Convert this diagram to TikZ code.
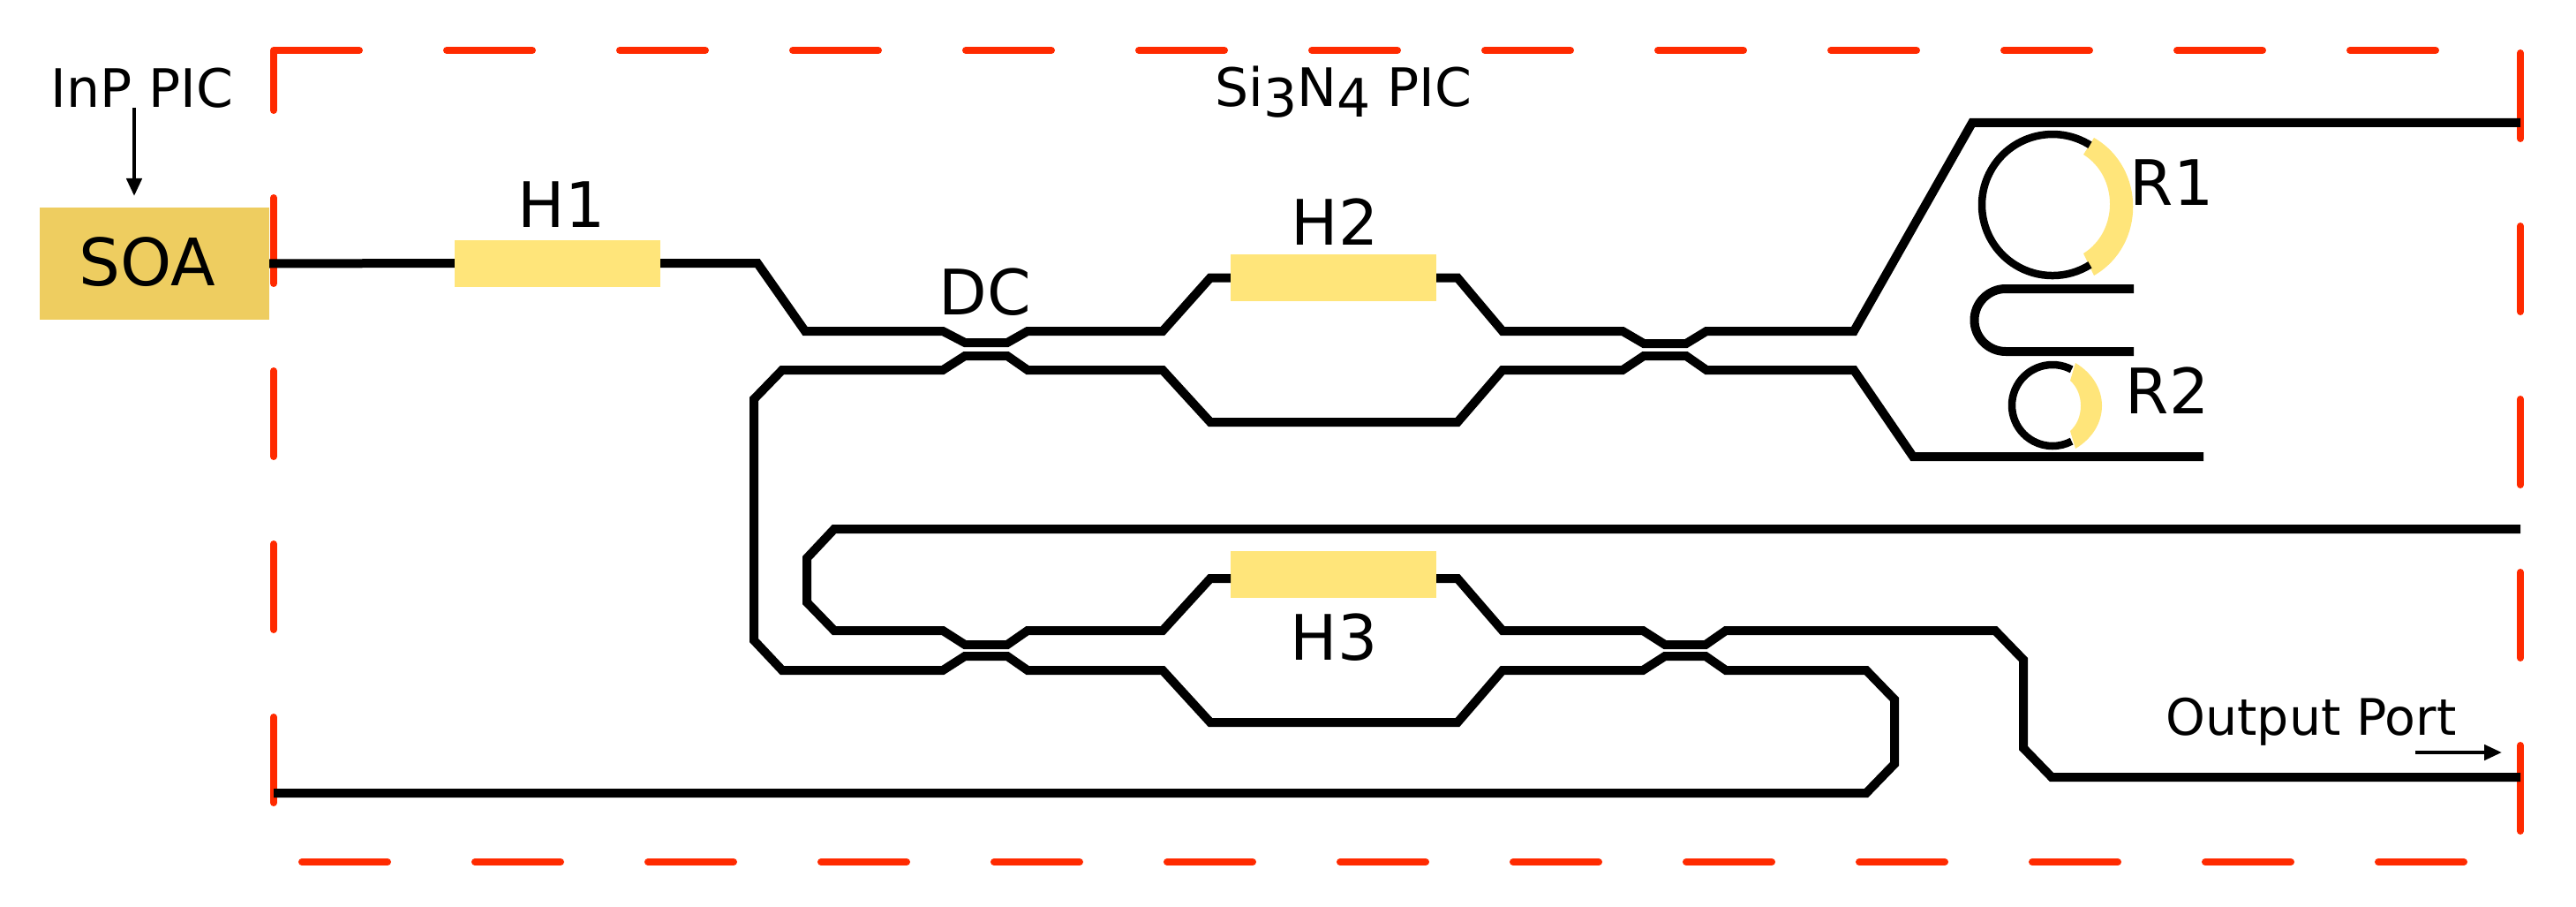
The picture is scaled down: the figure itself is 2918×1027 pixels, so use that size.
\documentclass[tikz,border=0pt]{standalone}
\usepackage{fontspec}
\setmainfont{DejaVu Sans}
\usetikzlibrary{arrows.meta}
\definecolor{framered}{HTML}{FF2A00}
\definecolor{soafill}{HTML}{EECD60}
\definecolor{heatfill}{HTML}{FFE57A}
\tikzset{
  frameline/.style={draw=framered,line width=8pt,dash pattern=on 97pt off 99pt,dash phase=0pt,line cap=round,line join=miter},
  wg/.style={draw=black,line width=10pt,line join=miter,line cap=butt},
  thinring/.style={draw=black,line width=8.5pt,line cap=butt},
  heater/.style={fill=heatfill,draw=none,minimum width=233pt,minimum height=53pt,inner sep=0pt},
  soabox/.style={fill=soafill,draw=none,minimum width=260pt,minimum height=126pt,inner sep=0pt},
  biglabel/.style={anchor=base,inner sep=0pt,font=\fontsize{71}{71}\selectfont},
  soalabel/.style={anchor=base,inner sep=0pt,font=\fontsize{74}{74}\selectfont},
  smalllabel/.style={anchor=base,inner sep=0pt,font=\fontsize{60}{60}\selectfont},
  portlabel/.style={anchor=base,inner sep=0pt,font=\fontsize{57}{57}\selectfont},
  pointer/.style={draw=black,line width=4.5pt,-{Triangle[length=20pt,width=17pt]}}
}
\begin{document}
\begin{tikzpicture}[x=1pt,y=-1pt]
\useasboundingbox (0,0) rectangle (2918,1027);
% dashed frame
\coordinate (tl) at (310,57);
\coordinate (tr) at (2855,57);
\coordinate (br) at (2855,976);
\coordinate (bl) at (310,976);
\draw[frameline] (tl) -- (tr) -- (br) -- (bl) -- cycle;
% free ends
\coordinate (thru1) at (2855,139);
\coordinate (thru2) at (2855,599);
\coordinate (outp) at (2855,880);
\coordinate (inL) at (310,898);
\coordinate (r2end) at (2496,517);
\coordinate (h3in) at (1394,655);
\coordinate (h3out) at (1627,655);
% waveguides
\path (175,298.5) node[soabox] (soa) {};
\path (631.5,298) node[heater] (h1) {};
\path (1510.5,314.5) node[heater] (h2) {};
\path (1510.5,650) node[heater] (h3) {};
\draw[wg] (soa.east) -- (h1.west);
\draw[wg] (h1.east) -- (858,298) -- (912,375) -- (1068,375) -- (1093,388) -- (1141,388) -- (1164,375) -- (1317,375) -- (1371,314.5) -- (h2.west);
\draw[wg] (h2.east) -- (1651,314.5) -- (1702,375) -- (1838,375) -- (1862,389) -- (1910,389) -- (1933,375) -- (2100,375) -- (2234,139) -- (thru1);
\draw[wg] (r2end) -- (2167,517) -- (2100,419) -- (1933,419) -- (1910,403) -- (1862,403) -- (1838,419) -- (1702,419) -- (1651,478) -- (1371,478) -- (1317,419) -- (1164,419) -- (1141,403) -- (1093,403) -- (1068,419) -- (886,419) -- (854,452) -- (854,725) -- (886,759) -- (1068,759) -- (1093,743) -- (1141,743) -- (1164,759) -- (1317,759) -- (1371,818) -- (1651,818) -- (1702,759) -- (1861,759) -- (1886,743) -- (1932,743) -- (1955,759) -- (2114,759) -- (2146,792) -- (2146,865) -- (2114,898) -- (inL);
\draw[wg] (thru2) -- (945,599) -- (914,632) -- (914,682) -- (945,714) -- (1068,714) -- (1093,730) -- (1141,730) -- (1164,714) -- (1317,714) -- (1371,655) -- (h3in);
\draw[wg] (h3out) -- (1651,655) -- (1702,714) -- (1861,714) -- (1886,730) -- (1932,730) -- (1955,714) -- (2260,714) -- (2292,747) -- (2292,847) -- (2324,880) -- (outp);
% ring R1
\fill[heatfill] (2372,156) .. controls (2431,190) and (2431,278) .. (2372,312) -- (2360,287) .. controls (2400,262) and (2400,200) .. (2360,175) -- cycle;
\draw[thinring] (2367.4,164.2) arc[start angle=58,end angle=302,radius=80pt];
% U bend
\coordinate (uTop) at (2417,327);
\coordinate (uBot) at (2417,398);
\draw[wg] (uTop) -- (2272,327) arc[start angle=90,end angle=270,radius=35.5pt] -- (uBot);
% ring R2
\fill[heatfill] (2351,411) .. controls (2391,435) and (2391,484) .. (2351,508) -- (2345,488) .. controls (2361,474) and (2361,445) .. (2345,431) -- cycle;
\draw[thinring] (2346.6,418.4) arc[start angle=62,end angle=298,radius=46pt];
% labels
\node[soalabel] (soalab) at (167,323) {SOA};
\node[biglabel] (h1lab) at (636,258) {H1};
\node[biglabel] (h2lab) at (1512,277) {H2};
\node[biglabel] (h3lab) at (1511,747) {H3};
\node[biglabel] (dclab) at (1116,356) {DC};
\node[biglabel] (r1lab) at (2460,233) {R1};
\node[biglabel] (r2lab) at (2455,468) {R2};
\node[smalllabel] (inp) at (161,122) {InP PIC};
\node[smalllabel] (sin) at (1522,121) {Si\raisebox{-12pt}{3}N\raisebox{-12pt}{4} PIC};
\node[portlabel] (oplab) at (2618,832) {Output Port};
% pointers
\coordinate (inpS) at (152,122);
\coordinate (inpE) at (152,222);
\draw[pointer] (inpS) -- (inpE);
\coordinate (opS) at (2736,852);
\coordinate (opE) at (2834,852);
\draw[pointer] (opS) -- (opE);
\end{tikzpicture}
\end{document}
